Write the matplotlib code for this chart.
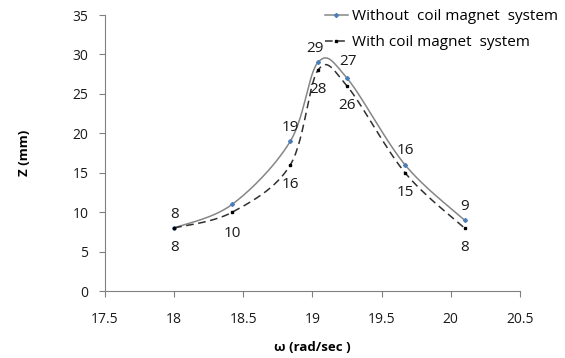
import numpy as np
import matplotlib.pyplot as plt

plt.rcParams['font.family'] = ['Open Sans', 'DejaVu Sans']

omega = [18.0, 18.42, 18.84, 19.04, 19.25, 19.67, 20.1]
z_without = [8, 11, 19, 29, 27, 16, 9]
z_with = [8, 10, 16, 28, 26, 15, 8]
labels_without = ['8', '', '19', '29', '27', '16', '9']
labels_with = ['8', '10', '16', '28', '26', '15', '8']


def smooth(x, y, n=30):
    # excel-style smoothed line (cardinal bezier through the points)
    x = np.asarray(x, float)
    y = np.asarray(y, float)
    px = np.concatenate([[x[0]], x, [x[-1]]])
    py = np.concatenate([[y[0]], y, [y[-1]]])
    xs, ys = [], []
    t = np.linspace(0, 1, n)
    for i in range(1, len(px) - 2):
        p0 = np.array([px[i], py[i]])
        p3 = np.array([px[i + 1], py[i + 1]])
        p1 = p0 + (np.array([px[i + 1], py[i + 1]]) - np.array([px[i - 1], py[i - 1]])) / 6
        p2 = p3 - (np.array([px[i + 2], py[i + 2]]) - np.array([px[i], py[i]])) / 6
        b = ((1 - t) ** 3)[:, None] * p0 + (3 * (1 - t) ** 2 * t)[:, None] * p1 \
            + (3 * (1 - t) * t ** 2)[:, None] * p2 + (t ** 3)[:, None] * p3
        xs.extend(b[:, 0])
        ys.extend(b[:, 1])
    return xs, ys


fig = plt.figure(figsize=(5.65, 3.58), dpi=100)
ax = fig.add_axes([0.186, 0.187, 0.734, 0.771])

sx, sy = smooth(omega, z_without)
ax.plot(sx, sy, color='#868686', lw=1.1)
ax.plot(omega, z_without, ls='none', marker='D', ms=2, color='#4a7ebb')
ax.plot([], [], color='#868686', lw=1.1, marker='D', ms=2, mfc='#4a7ebb', mec='#4a7ebb',
        label='Without  coil magnet  system')

sx, sy = smooth(omega, z_with)
ax.plot(sx, sy, color='#303030', lw=1.1, ls=(0, (5, 3)))
ax.plot(omega, z_with, ls='none', marker='s', ms=2, color='black')
ax.plot([], [], color='#303030', lw=1.1, ls=(0, (5, 3)), marker='s', ms=2, mfc='black', mec='black',
        label='With coil magnet  system')

off_without = [(0, 10), (0, 10), (0, 10), (-2, 10), (1, 12), (0, 10), (0, 10)]
off_with = [(0, -14), (0, -15), (0, -14), (0, -14), (0, -14), (0, -14), (0, -14)]
for x, y, s, o in zip(omega, z_without, labels_without, off_without):
    if s:
        ax.annotate(s, (x, y), xytext=o, textcoords='offset points', ha='center', va='center',
                    fontsize=11, color='#1a1a1a')
for x, y, s, o in zip(omega, z_with, labels_with, off_with):
    ax.annotate(s, (x, y), xytext=o, textcoords='offset points', ha='center', va='center',
                fontsize=11, color='#1a1a1a')

ax.set_xlim(17.5, 20.5)
ax.set_ylim(0, 35)
ax.set_xticks([17.5, 18, 18.5, 19, 19.5, 20, 20.5])
ax.set_xticklabels(['17.5', '18', '18.5', '19', '19.5', '20', '20.5'])
ax.set_yticks(range(0, 36, 5))
ax.spines['top'].set_visible(False)
ax.spines['right'].set_visible(False)
for sp in ['left', 'bottom']:
    ax.spines[sp].set_color('#808080')
ax.tick_params(axis='x', direction='out', length=4, color='#808080', labelsize=10, labelcolor='#1a1a1a', pad=11)
ax.tick_params(axis='y', direction='out', length=4, color='#808080', labelsize=10, labelcolor='#1a1a1a', pad=8)
ax.set_xlabel('ω (rad/sec )', fontsize=9.5, fontweight='bold', labelpad=10)
ax.set_ylabel('Z (mm)', fontsize=9.5, fontweight='bold', labelpad=30)

ax.legend(loc='upper left', bbox_to_anchor=(0.575, 0.975), bbox_transform=fig.transFigure,
          frameon=False, fontsize=11, handlelength=1.5, handletextpad=0.3, labelspacing=0.75,
          borderaxespad=0, borderpad=0)

fig.savefig('out.png', dpi=100)
